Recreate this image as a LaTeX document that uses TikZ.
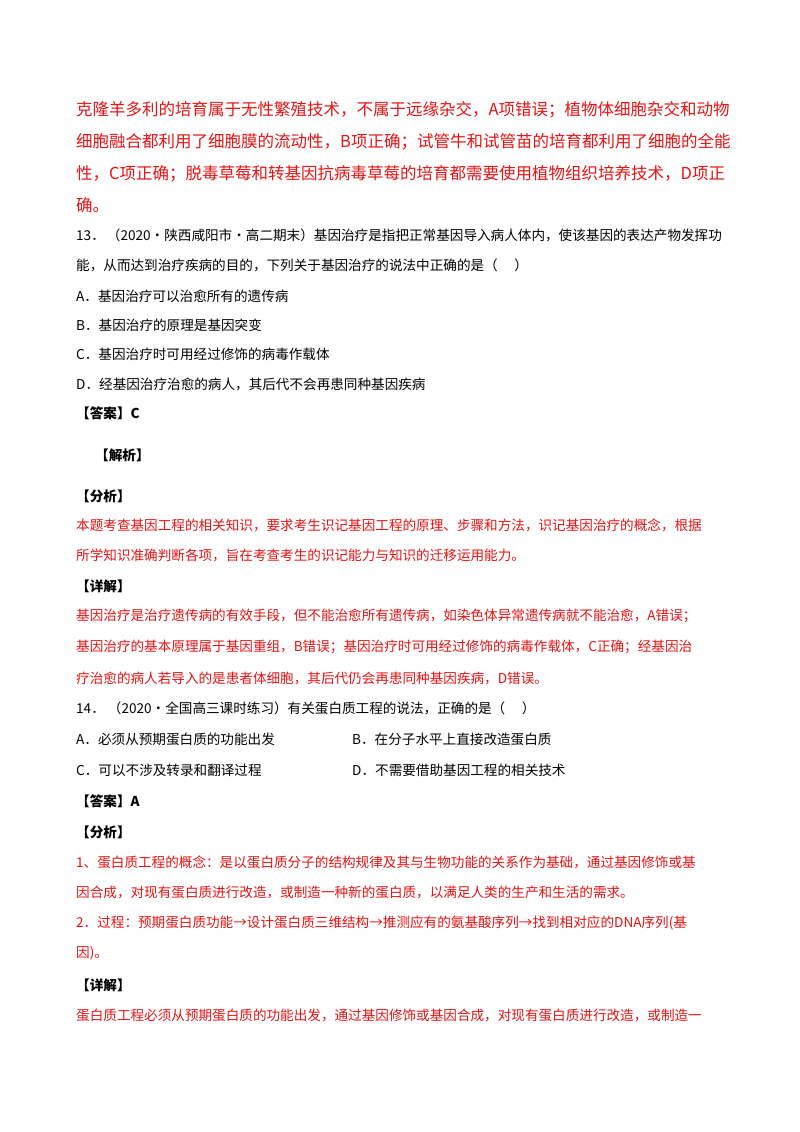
\documentclass[tikz,border=0pt]{standalone}
\usepackage{fontspec}
\setmainfont{Liberation Serif}
\newfontfamily\cjk{Noto Sans CJK SC}
\XeTeXlinebreaklocale "zh"
\XeTeXlinebreakskip=0pt plus 2pt
\definecolor{redtxt}{RGB}{230,20,20}
\tikzset{
 big/.style={anchor=west,inner sep=0,text=redtxt,font=\cjk\fontsize{16.5}{18}\selectfont},
 sm/.style={anchor=west,inner sep=0,font=\cjk\fontsize{13.6}{15}\selectfont},
 smr/.style={sm,text=redtxt},
 bold/.style={sm,font=\cjk\bfseries\fontsize{13.6}{15}\selectfont}
}
\newcommand{\jline}[2]{\makebox[#1pt][s]{#2}}
\begin{document}
\begin{tikzpicture}[x=1pt,y=-1pt]
\useasboundingbox (0,0) rectangle (800,1132);
\fill[white] (0,0) rectangle (800,1132);
\node[big] (l1) at (76,110) {\jline{642}{克隆羊多利的培育属于无性繁殖技术，不属于远缘杂交，A项错误；植物体细胞杂交和动物}};
\node[big] (l2) at (76,142) {\jline{642}{细胞融合都利用了细胞膜的流动性，B项正确；试管牛和试管苗的培育都利用了细胞的全能}};
\node[big] (l3) at (76,174) {\jline{642}{性，C项正确；脱毒草莓和转基因抗病毒草莓的培育都需要使用植物组织培养技术，D项正}};
\node[big] (l4) at (76,205) {确。};
\node[sm] (q13a) at (76,235) {\jline{640}{13．\ （2020·陕西咸阳市·高二期末）基因治疗是指把正常基因导入病人体内，使该基因的表达产物发挥功}};
\node[sm] (q13b) at (76,265) {能，从而达到治疗疾病的目的，下列关于基因治疗的说法中正确的是（\quad\ ）};
\node[sm] (a13) at (76,296) {A．基因治疗可以治愈所有的遗传病};
\node[sm] (b13) at (76,325) {B．基因治疗的原理是基因突变};
\node[sm] (c13) at (76,354) {C．基因治疗时可用经过修饰的病毒作载体};
\node[sm] (d13) at (76,384) {D．经基因治疗治愈的病人，其后代不会再患同种基因疾病};
\node[bold] (ans13) at (76,413) {【答案】C};
\node[bold] (jx13) at (95,455) {【解析】};
\node[bold] (fx13) at (76,496) {【分析】};
\node[smr] (f1) at (76,525) {\jline{640}{本题考查基因工程的相关知识，要求考生识记基因工程的原理、步骤和方法，识记基因治疗的概念，根据}};
\node[smr] (f2) at (76,555) {所学知识准确判断各项，旨在考查考生的识记能力与知识的迁移运用能力。};
\node[bold] (xj13) at (76,586) {【详解】};
\node[smr] (x1) at (76,616) {\jline{640}{基因治疗是治疗遗传病的有效手段，但不能治愈所有遗传病，如染色体异常遗传病就不能治愈，A错误；}};
\node[smr] (x2) at (76,647) {\jline{640}{基因治疗的基本原理属于基因重组，B错误；基因治疗时可用经过修饰的病毒作载体，C正确；经基因治}};
\node[smr] (x3) at (76,678) {疗治愈的病人若导入的是患者体细胞，其后代仍会再患同种基因疾病，D错误。};
\node[sm] (q14) at (76,708) {14．\ （2020·全国高三课时练习）有关蛋白质工程的说法，正确的是（\quad\ ）};
\node[sm] (a14) at (76,739) {A．必须从预期蛋白质的功能出发};
\node[sm] (b14) at (352,739) {B．在分子水平上直接改造蛋白质};
\node[sm] (c14) at (76,770) {C．可以不涉及转录和翻译过程};
\node[sm] (d14) at (352,770) {D．不需要借助基因工程的相关技术};
\node[bold] (ans14) at (76,801) {【答案】A};
\node[bold] (fx14) at (76,832) {【分析】};
\node[smr] (g1) at (76,862) {\jline{640}{1、蛋白质工程的概念：是以蛋白质分子的结构规律及其与生物功能的关系作为基础，通过基因修饰或基}};
\node[smr] (g2) at (76,892) {因合成，对现有蛋白质进行改造，或制造一种新的蛋白质，以满足人类的生产和生活的需求。};
\node[smr] (g3) at (76,923) {\jline{640}{2．过程：预期蛋白质功能→设计蛋白质三维结构→推测应有的氨基酸序列→找到相对应的DNA序列(基}};
\node[smr] (g4) at (76,953) {因)。};
\node[bold] (xj14) at (76,985) {【详解】};
\node[smr] (h1) at (76,1015) {\jline{640}{蛋白质工程必须从预期蛋白质的功能出发，通过基因修饰或基因合成，对现有蛋白质进行改造，或制造一}};
\end{tikzpicture}
\end{document}
